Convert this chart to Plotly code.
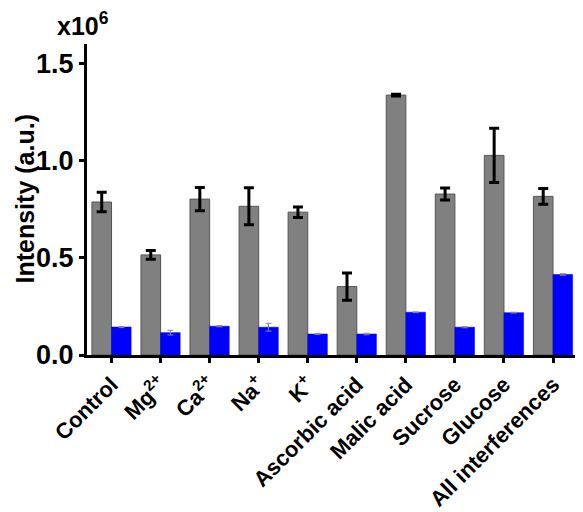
import plotly.graph_objects as go

categories = ["Control", "Mg<sup>2+</sup>", "Ca<sup>2+</sup>", "Na<sup>+</sup>", "K<sup>+</sup>",
              "Ascorbic acid", "Malic acid", "Sucrose", "Glucose", "All interferences"]
gray_values = [0.787, 0.515, 0.802, 0.765, 0.735, 0.352, 1.337, 0.828, 1.027, 0.816]
gray_errors = [0.050, 0.022, 0.060, 0.095, 0.027, 0.070, 0.005, 0.031, 0.140, 0.040]
blue_values = [0.144, 0.115, 0.148, 0.143, 0.108, 0.108, 0.220, 0.143, 0.218, 0.414]
blue_errors = [0.003, 0.012, 0.003, 0.020, 0.003, 0.004, 0.002, 0.003, 0.002, 0.004]
y_ticks = [0.0, 0.5, 1.0, 1.5]
y_ticklabels = ["0.0", "0.5", "1.0", "1.5"]
y_title = "Intensity (a.u.)"
scale_label = "x10<sup>6</sup>"

FONT = "Liberation Sans, Arial, sans-serif"
x = list(range(len(categories)))

fig = go.Figure()
fig.add_trace(go.Bar(
    x=x, y=gray_values, marker=dict(color="#808080", line=dict(color="#555555", width=1)),
    error_y=dict(type="data", array=gray_errors, color="black", thickness=3, width=5),
    showlegend=False))
fig.add_trace(go.Bar(
    x=x, y=blue_values, marker=dict(color="#0000FF", line=dict(color="#0000CC", width=0.5)),
    error_y=dict(type="data", array=blue_errors, color="#888888", thickness=1, width=3),
    showlegend=False))

L, T, PW = 79, 36, 493
fig.update_layout(
    width=575, height=504,
    margin=dict(l=L, r=3, t=T, b=157, autoexpand=False),
    paper_bgcolor="white", plot_bgcolor="white",
    barmode="group", bargap=0.2, bargroupgap=0.0,
    font=dict(family=FONT, color="black"),
    xaxis=dict(
        tickmode="array", tickvals=x, ticktext=categories, tickangle=-45,
        range=[-0.5, 9.55], showline=True, linecolor="black", linewidth=3,
        ticks="outside", ticklen=5, tickwidth=2.5, tickcolor="black",
        tickfont=dict(family=FONT, size=22, weight="bold", color="black"),
        showgrid=False, zeroline=False, automargin=False),
    yaxis=dict(
        range=[0, 1.6], tickmode="array", tickvals=y_ticks, ticktext=y_ticklabels,
        showline=True, linecolor="black", linewidth=3,
        ticks="outside", ticklen=5, tickwidth=2.5, tickcolor="black",
        tickfont=dict(family=FONT, size=27, weight="bold", color="black"),
        showgrid=False, zeroline=False, automargin=False),
    annotations=[
        dict(text=scale_label, xref="paper", yref="paper", x=-0.008, y=1.122,
             xanchor="center", yanchor="top", showarrow=False,
             font=dict(family=FONT, size=25, weight="bold", color="black")),
        dict(text=y_title, xref="paper", yref="paper", x=(16 - L) / PW, y=0.5,
             xanchor="center", yanchor="middle", textangle=-90, showarrow=False, borderpad=0,
             font=dict(family=FONT, size=25, weight="bold", color="black")),
    ],
)

fig.write_html("out.html")
